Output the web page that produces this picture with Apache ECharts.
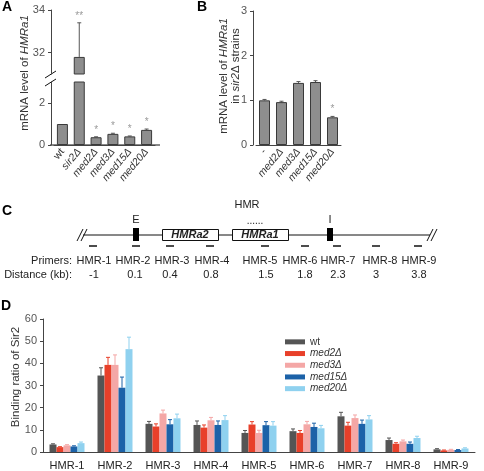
<!DOCTYPE html>
<html><head><meta charset="utf-8">
<script src="https://cdn.jsdelivr.net/npm/echarts@6/dist/echarts.min.js"></script>
<style>html,body{margin:0;padding:0;background:#fff}#c{width:484px;height:471px}</style>
</head><body><div id="c"></div>
<script>
// ---------- Panel A data ----------
const strainsA = ['wt', 'sir2Δ', 'med2Δ', 'med3Δ', 'med15Δ', 'med20Δ'];
const valuesA = [1.0, 31.8, 0.37, 0.53, 0.41, 0.72];
const errorsA = [0, 1.6, 0.02, 0.03, 0.02, 0.04];
const starsA = ['', '**', '*', '*', '*', '*'];
const ticksALow = [0, 2];
const ticksAHigh = [32, 34];
// ---------- Panel B data ----------
const strainsB = ['-', 'med2Δ', 'med3Δ', 'med15Δ', 'med20Δ'];
const valuesB = [1.0, 0.96, 1.39, 1.41, 0.62];
const errorsB = [0.02, 0.02, 0.03, 0.03, 0.02];
const starsB = ['', '', '', '', '*'];
const ticksB = [0, 1, 2, 3];
// ---------- Panel C data ----------
const primers = ['HMR-1', 'HMR-2', 'HMR-3', 'HMR-4', 'HMR-5', 'HMR-6', 'HMR-7', 'HMR-8', 'HMR-9'];
const distances = ['-1', '0.1', '0.4', '0.8', '1.5', '1.8', '2.3', '3', '3.8'];
// ---------- Panel D data ----------
const seriesNames = ['wt', 'med2Δ', 'med3Δ', 'med15Δ', 'med20Δ'];
const wtD      = [3.4, 34.5, 12.7, 12.2, 8.6, 9.4, 16.1, 5.4, 1.2];
const wtErrD   = [0.3, 3.5, 1.1, 1.8, 1.1, 1.0, 1.8, 0.9, 0.3];
const med2D    = [2.2, 39.3, 11.5, 11.0, 12.4, 8.6, 11.9, 3.7, 0.7];
const med2ErrD = [0.2, 3.4, 1.2, 1.2, 1.3, 1.1, 1.5, 0.5, 0.2];
const med3D    = [3.0, 39.3, 17.4, 14.3, 8.6, 12.5, 15.3, 4.8, 1.0];
const med3ErrD = [0.3, 4.5, 1.5, 1.3, 1.2, 1.3, 1.4, 0.6, 0.2];
const med15D   = [2.5, 29.0, 12.5, 12.2, 12.1, 11.3, 12.7, 3.7, 0.9];
const med15ErrD= [0.3, 4.8, 2.1, 1.8, 1.6, 1.7, 1.7, 0.8, 0.2];
const med20D   = [4.0, 46.4, 15.2, 14.4, 11.9, 10.7, 14.7, 6.3, 1.6];
const med20ErrD= [0.5, 5.4, 1.9, 2.0, 1.8, 1.3, 1.7, 0.8, 0.3];
const ticksD = [0, 10, 20, 30, 40, 50, 60];

// ---------- layout / style ----------
const FONT = 'Liberation Sans, Arial, Helvetica, sans-serif';
const AX = '#444', LBL = '#555';
const coloursD = ['#555555', '#e8402a', '#f4a7a6', '#1c62a8', '#8fd1ef'];
const valsD = [wtD, med2D, med3D, med15D, med20D];
const errsD = [wtErrD, med2ErrD, med3ErrD, med15ErrD, med20ErrD];
const BW_D = 7;
const upperMinA = 31, lowerMaxA = 3;

const italicFmt = v => (v === 'wt' || v === '-') ? v : '{i|' + v + '}';

function errRender(offset, color, stars) {
  return function (params, api) {
    const i = api.value(0), v = api.value(1), e = api.value(2);
    const star = stars ? stars[i] : '';
    const p0 = api.coord([i, v]), p1 = api.coord([i, v + e]);
    const x = p0[0] + offset;
    const ch = [];
    if (e > 0) {
      ch.push({type: 'line', shape: {x1: x, y1: p0[1], x2: x, y2: p1[1]}, style: {stroke: color, lineWidth: 1}});
      ch.push({type: 'line', shape: {x1: x - 2, y1: p1[1], x2: x + 2, y2: p1[1]}, style: {stroke: color, lineWidth: 1}});
    }
    if (star) {
      ch.push({type: 'text', x: x, y: p1[1] - 2, style: {text: star, fill: '#9a9a9a', font: '10px ' + FONT, align: 'center', verticalAlign: 'bottom'}});
    }
    return {type: 'group', children: ch};
  };
}

const catAxis = (gi, data, show, rotate) => ({
  type: 'category', gridIndex: gi, data: data,
  axisLine: {show: show, lineStyle: {color: AX}}, axisTick: {show: false},
  axisLabel: {show: show, interval: 0, rotate: rotate, margin: 5, color: '#333', fontFamily: FONT, fontSize: 10.5,
    formatter: italicFmt, rich: {i: {fontStyle: 'italic', fontSize: 10.5, fontFamily: FONT, color: '#333'}}}
});
const valAxis = (gi, min, max, ticks, offset) => ({
  type: 'value', gridIndex: gi, min: min, max: max, offset: offset,
  axisLine: {show: true, lineStyle: {color: AX}},
  axisTick: {show: true, length: 3, lineStyle: {color: AX}, customValues: ticks},
  axisLabel: {color: LBL, fontFamily: FONT, fontSize: 11, margin: 6, customValues: ticks},
  splitLine: {show: false}
});

const barStyleA = {color: '#8e8e8e', borderColor: '#3a3a3a', borderWidth: 1};

const series = [
  // Panel A upper
  {type: 'bar', xAxisIndex: 0, yAxisIndex: 0, barWidth: 11, itemStyle: barStyleA, silent: true,
   data: valuesA.map(v => v > upperMinA ? v : null)},
  {type: 'custom', xAxisIndex: 0, yAxisIndex: 0, renderItem: errRender(0, '#555', starsA), silent: true,
   data: valuesA.map((v, i) => v > upperMinA ? [i, v, errorsA[i]] : null).filter(d => d)},
  // Panel A lower
  {type: 'bar', xAxisIndex: 1, yAxisIndex: 1, barWidth: 11, itemStyle: barStyleA, silent: true, data: valuesA},
  {type: 'custom', xAxisIndex: 1, yAxisIndex: 1, renderItem: errRender(0, '#555', starsA), silent: true,
   data: valuesA.map((v, i) => v < lowerMaxA ? [i, v, errorsA[i]] : null).filter(d => d)},
  // Panel B
  {type: 'bar', xAxisIndex: 2, yAxisIndex: 2, barWidth: 11, itemStyle: barStyleA, silent: true, data: valuesB},
  {type: 'custom', xAxisIndex: 2, yAxisIndex: 2, renderItem: errRender(0, '#555', starsB), silent: true,
   data: valuesB.map((v, i) => [i, v, errorsB[i]])}
];
seriesNames.forEach((n, k) => {
  series.push({type: 'bar', name: n, xAxisIndex: 3, yAxisIndex: 3, barWidth: BW_D, barGap: '0%',
    itemStyle: {color: coloursD[k]}, data: valsD[k], silent: true});
});
seriesNames.forEach((n, k) => {
  series.push({type: 'custom', xAxisIndex: 3, yAxisIndex: 3, silent: true,
    renderItem: errRender((k - 2) * BW_D, coloursD[k], null),
    data: valsD[k].map((v, i) => [i, v, errsD[k][i]])});
});

// ---------- Panel C diagram (schematic layout) ----------
const primerX = [93, 136, 170, 210, 265, 305, 337, 376, 418];
const labelX = [94, 133, 172, 212, 260, 300, 338, 380, 419];
const distX = [94, 135, 170, 211, 266, 305, 338, 376, 419];
const txt = (x, y, t, o) => Object.assign({type: 'text', x: x, y: y, silent: true,
  style: Object.assign({text: t, fill: '#222', font: '11px ' + FONT, align: 'center', verticalAlign: 'middle'}, o || {})});
const ln = (x1, y1, x2, y2, w) => ({type: 'line', silent: true, shape: {x1, y1, x2, y2}, style: {stroke: '#111', lineWidth: w || 1}});

const graphic = [
  txt(2, 7, 'A', {font: 'bold 14px ' + FONT, align: 'left', fill: '#000'}),
  txt(197, 7, 'B', {font: 'bold 14px ' + FONT, align: 'left', fill: '#000'}),
  txt(2, 211, 'C', {font: 'bold 14px ' + FONT, align: 'left', fill: '#000'}),
  txt(1, 306, 'D', {font: 'bold 14px ' + FONT, align: 'left', fill: '#000'}),
  // axis titles
  {type: 'text', x: 25, y: 73, rotation: Math.PI / 2, silent: true,
   style: {text: 'mRNA level of {i|HMRa1}', fill: '#333', font: '11.5px ' + FONT, align: 'center', verticalAlign: 'middle',
     rich: {i: {fontStyle: 'italic', font: 'italic 11.5px ' + FONT, fill: '#333'}}}},
  {type: 'text', x: 224, y: 76, rotation: Math.PI / 2, silent: true,
   style: {text: 'mRNA level of {i|HMRa1}', fill: '#333', font: '11.5px ' + FONT, align: 'center', verticalAlign: 'middle',
     rich: {i: {fontStyle: 'italic', font: 'italic 11.5px ' + FONT, fill: '#333'}}}},
  {type: 'text', x: 236, y: 66, rotation: Math.PI / 2, silent: true,
   style: {text: 'in {i|sir2}Δ strains', fill: '#333', font: '11.5px ' + FONT, align: 'center', verticalAlign: 'middle',
     rich: {i: {fontStyle: 'italic', font: 'italic 11.5px ' + FONT, fill: '#333'}}}},
  {type: 'text', x: 16, y: 377, rotation: Math.PI / 2, silent: true,
   style: {text: 'Binding ratio of Sir2', fill: '#333', font: '11.5px ' + FONT, align: 'center', verticalAlign: 'middle'}},
  // extend A x-axis line to the left and right as in the figure
  ln(50, 145, 160, 145, 1),
  // break marks on A axis
  {type: 'rect', silent: true, shape: {x: 46, y: 75, width: 10, height: 7}, style: {fill: '#fff'}},
  ln(45, 78, 56, 71), ln(45, 86, 56, 79),
  // Diagram C
  txt(247, 205, 'HMR'),
  txt(136, 220, 'E'),
  txt(330, 220, 'I'),
  txt(255, 221, '......', {font: '10px ' + FONT}),
  ln(83, 235, 430, 235),
  ln(77, 241, 83, 229), ln(81, 241, 87, 229),
  ln(427, 241, 433, 229), ln(431, 241, 437, 229),
  {type: 'rect', silent: true, shape: {x: 133, y: 228, width: 6, height: 13}, style: {fill: '#000'}},
  {type: 'rect', silent: true, shape: {x: 327, y: 228, width: 6, height: 13}, style: {fill: '#000'}},
  {type: 'rect', silent: true, shape: {x: 162.5, y: 229.5, width: 56, height: 11}, style: {fill: '#fff', stroke: '#111', lineWidth: 1}},
  {type: 'rect', silent: true, shape: {x: 232.5, y: 229.5, width: 56, height: 11}, style: {fill: '#fff', stroke: '#111', lineWidth: 1}},
  txt(190, 235, 'HMRa2', {font: 'italic bold 11px ' + FONT}),
  txt(260, 235, 'HMRa1', {font: 'italic bold 11px ' + FONT}),
  txt(72, 261, 'Primers:', {align: 'right'}),
  txt(72, 275, 'Distance (kb):', {align: 'right'})
];
primers.forEach((p, i) => {
  graphic.push(ln(primerX[i] - 4, 246, primerX[i] + 4, 246, 1.5));
  graphic.push(txt(labelX[i], 261, p));
  graphic.push(txt(distX[i], 275, distances[i]));
});

const chart = echarts.init(document.getElementById('c'), null, {renderer: 'canvas'});
chart.setOption({
  animation: false,
  backgroundColor: '#fff',
  textStyle: {fontFamily: FONT},
  grid: [
    {left: 54, top: 10, width: 101, height: 64},
    {left: 54, top: 82, width: 101, height: 63},
    {left: 256, top: 11, width: 85, height: 134},
    {left: 43, top: 319, width: 432, height: 134}
  ],
  xAxis: [
    catAxis(0, strainsA, false, 0),
    catAxis(1, strainsA, true, 50),
    catAxis(2, strainsB, true, 50),
    Object.assign(catAxis(3, primers, true, 0), {axisLabel: {interval: 0, color: '#222', fontFamily: FONT, fontSize: 11, margin: 8}})
  ],
  yAxis: [
    valAxis(0, upperMinA, 34, ticksAHigh, 3),
    valAxis(1, 0, lowerMaxA, ticksALow, 3),
    valAxis(2, 0, 3, ticksB, 3),
    valAxis(3, 0, 60, ticksD, 0)
  ],
  legend: {
    data: seriesNames, orient: 'vertical', left: 280, top: 331, itemWidth: 20, itemHeight: 5, itemGap: 0,
    icon: 'rect', selectedMode: false,
    formatter: n => n === 'wt' ? n : '{i|' + n + '}',
    textStyle: {fontSize: 10, color: '#333', fontFamily: FONT, lineHeight: 11.7,
      rich: {i: {fontStyle: 'italic', fontSize: 10, color: '#333', fontFamily: FONT, lineHeight: 11.7}}}
  },
  series: series,
  graphic: graphic
});
</script></body></html>
